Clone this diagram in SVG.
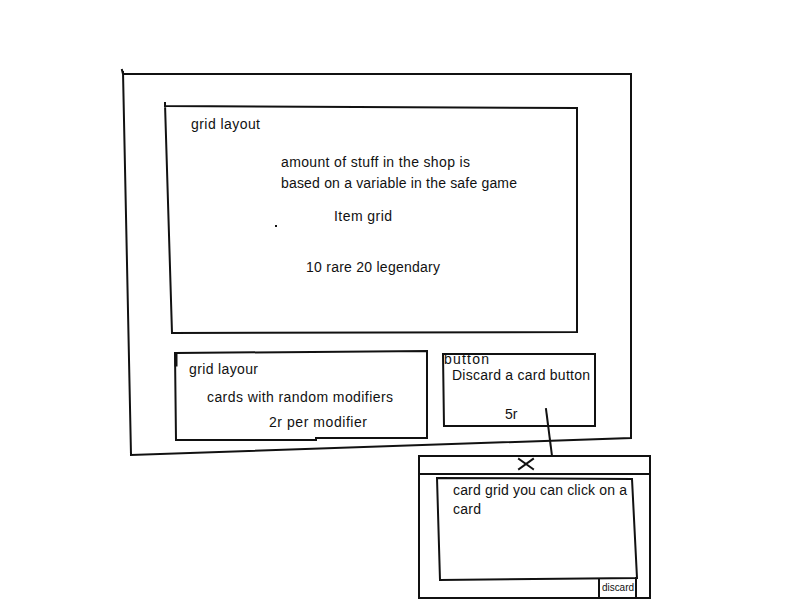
<svg xmlns="http://www.w3.org/2000/svg" width="800" height="600" viewBox="0 0 800 600">
<style>
.s{fill:none;stroke:#111;stroke-width:2;stroke-linecap:square}
.t{font-family:"Liberation Sans","Open Sans",sans-serif;font-size:14px;fill:#111}
.sm{font-family:"Liberation Sans","Open Sans",sans-serif;font-size:10px;fill:#111}
</style>
<rect width="800" height="600" fill="#fff"/>
<g id="shop-frame">
<path class="s" d="M122,70 L123,74 L631,74 L631,438 L131,455 L123,72"/>
</g>
<g id="item-grid">
<path class="s" d="M165,103 L165,106 L577,108 L577,332 L172,333 L165,104"/>
<text class="t" x="191" y="129" textLength="69">grid layout</text>
<text class="t" x="281" y="167" textLength="189">amount of stuff in the shop is</text>
<text class="t" x="281" y="188" textLength="236">based on a variable in the safe game</text>
<text class="t" x="334" y="221" textLength="58">Item grid</text>
<rect x="275" y="225" width="2" height="2" fill="#111"/>
<text class="t" x="306" y="272" textLength="134">10 rare 20 legendary</text>
</g>
<g id="card-grid">
<path class="s" d="M176,355 L176,353 L427,351 L427,438 L316,438 L316,440 L176,440 L175,353"/>
<path class="s" d="M176,355 L176,365" style="stroke-width:3"/>
<text class="t" x="189" y="374" textLength="69">grid layour</text>
<text class="t" x="207" y="402" textLength="186">cards with random modifiers</text>
<text class="t" x="269" y="427" textLength="98">2r per modifier</text>
</g>
<g id="discard-button">
<path class="s" d="M443,354 L595,354 L595,426 L444,426 L443,354"/>
<text class="t" x="444" y="364" textLength="45">button</text>
<text class="t" x="452" y="380" textLength="138">Discard a card button</text>
<text class="t" x="505" y="419">5r</text>
</g>
<g id="connectors">
<path class="s" d="M546,409 L552,456"/>
</g>
<g id="discard-popup">
<path class="s" d="M419,456 L650,456 L650,598 L419,598 Z"/>
<path class="s" d="M419,474 L650,474"/>
<path class="s" d="M519,459 L533,469 M519,469 L533,459"/>
<path class="s" d="M437,478 L632,479 L637,578 L440,580 Z"/>
<path class="s" d="M599,580 L599,598 M636,578 L636,598"/>
<text class="t" x="453" y="495" textLength="174">card grid you can click on a</text>
<text class="t" x="453" y="514" textLength="28">card</text>
<text class="sm" x="602" y="591" textLength="32">discard</text>
</g>
</svg>
